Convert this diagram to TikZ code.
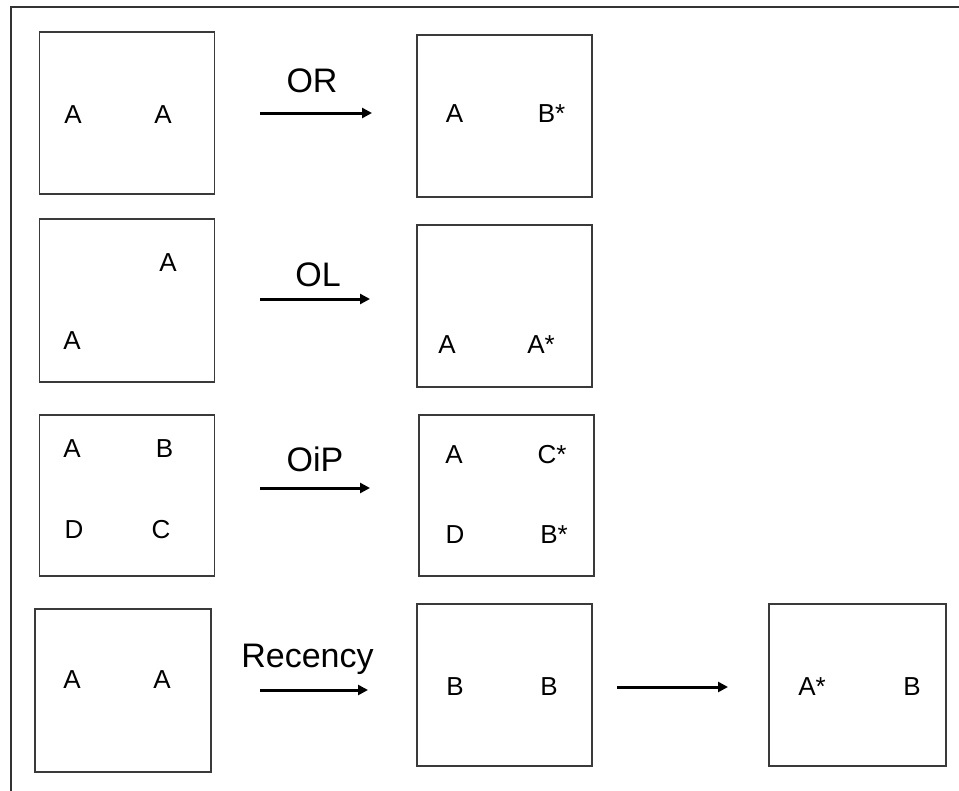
\documentclass[tikz,border=0pt]{standalone}
\usepackage{fontspec}
\setmainfont{Liberation Sans}
\usetikzlibrary{arrows.meta}
\definecolor{framegray}{HTML}{333333}
\definecolor{boxgray}{HTML}{3A3A3A}
\tikzset{
  panel/.style={draw=boxgray, line width=1.5bp, inner sep=0pt, minimum width=175bp, minimum height=162bp},
  letter/.style={anchor=base, inner sep=0pt, font=\fontsize{26bp}{30bp}\selectfont},
  oplabel/.style={anchor=base, inner sep=0pt, font=\fontsize{34bp}{40bp}\selectfont},
  oparrow/.style={line width=3bp, -{Triangle[length=10bp,width=10bp]}},
}
\begin{document}
\begin{tikzpicture}[x=1bp, y=-1bp]
\useasboundingbox (0,0) rectangle (959,791);
% outer frame (top and left only)
\draw[framegray, line width=2bp] (10,7.5) -- (959,7.5);
\draw[framegray, line width=1.5bp] (11,7) -- (11,791);

% Row 1
\node[panel] (p1l) at (127,113) {};
\node[panel] (p1r) at (504.5,116) {};
\node[letter] (l1a) at (73,123) {A};
\node[letter] (l1b) at (163,123) {A};
\node[letter] (r1a) at (454.5,122) {A};
\node[letter] (r1b) at (551.5,122) {B*};
\node[oplabel] (t1) at (312,93) {OR};
\coordinate (a1s) at (260,113);
\coordinate (a1e) at (372,113);
\draw[oparrow] (a1s) -- (a1e);

% Row 2
\node[panel, minimum height=163bp] (p2l) at (127,300.5) {};
\node[panel] (p2r) at (504.5,306) {};
\node[letter] (l2a) at (168,271) {A};
\node[letter] (l2b) at (72,349) {A};
\node[letter] (r2a) at (447,353) {A};
\node[letter] (r2b) at (541,353) {A*};
\node[oplabel] (t2) at (318,286) {OL};
\coordinate (a2s) at (260,299);
\coordinate (a2e) at (370,299);
\draw[oparrow] (a2s) -- (a2e);

% Row 3
\node[panel, minimum height=161bp] (p3l) at (127,495.5) {};
\node[panel, minimum height=161bp] (p3r) at (506.5,495.5) {};
\node[letter] (l3a) at (72,457) {A};
\node[letter] (l3b) at (164.5,457) {B};
\node[letter] (l3d) at (74,538) {D};
\node[letter] (l3c) at (161,538) {C};
\node[letter] (r3a) at (454,463) {A};
\node[letter] (r3c) at (552,463) {C*};
\node[letter] (r3d) at (455,543) {D};
\node[letter] (r3b) at (554,543) {B*};
\node[oplabel] (t3) at (315,471) {OiP};
\coordinate (a3s) at (260,488);
\coordinate (a3e) at (370,488);
\draw[oparrow] (a3s) -- (a3e);

% Row 4
\node[panel, minimum width=176bp, minimum height=163bp] (p4l) at (123,690.5) {};
\node[panel] (p4m) at (504.5,685) {};
\node[panel, minimum width=177bp] (p4r) at (857.5,685) {};
\node[letter] (l4a) at (72,688) {A};
\node[letter] (l4b) at (162,688) {A};
\node[letter] (m4a) at (455,695) {B};
\node[letter] (m4b) at (549,695) {B};
\node[letter] (r4a) at (812,695) {A*};
\node[letter] (r4b) at (912,695) {B};
\node[oplabel] (t4) at (307.5,667) {Recency};
\coordinate (a4s) at (260,690);
\coordinate (a4e) at (368,690);
\draw[oparrow] (a4s) -- (a4e);
\coordinate (a5s) at (617,687);
\coordinate (a5e) at (728,687);
\draw[oparrow] (a5s) -- (a5e);
\end{tikzpicture}
\end{document}
